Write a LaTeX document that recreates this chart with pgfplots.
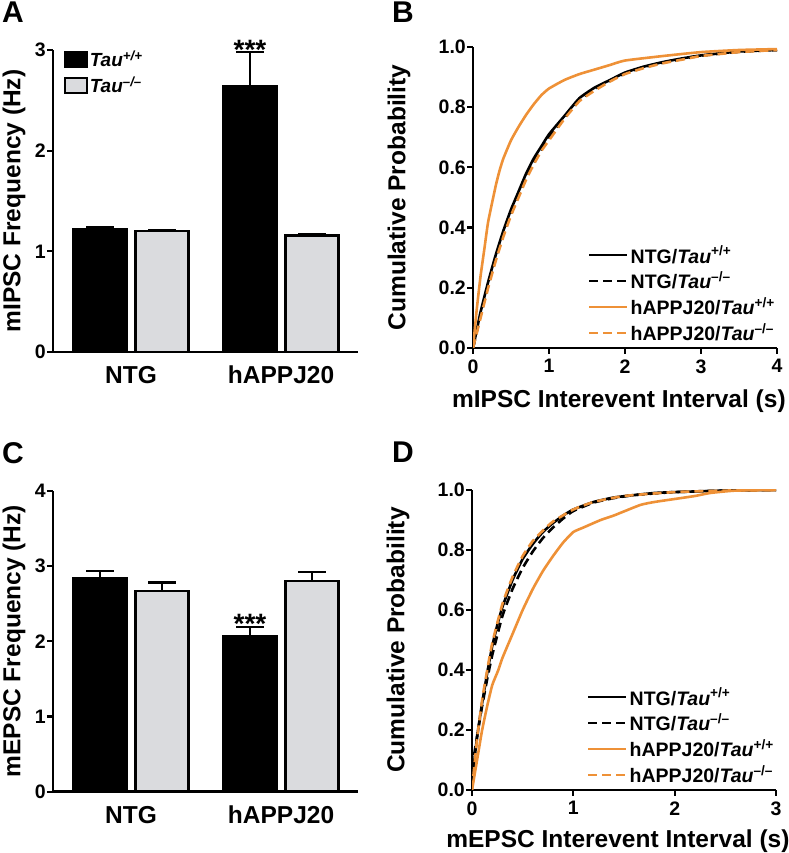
\documentclass[border=0pt]{standalone}
\usepackage{fontspec}
\setmainfont{Liberation Sans}
\usepackage{pgfplots}
\pgfplotsset{compat=1.18}
\definecolor{org}{RGB}{238,145,55}
\definecolor{lgray}{RGB}{218,219,222}
\newcommand{\tp}{\textsuperscript{+/+}}
\newcommand{\tm}{\textsuperscript{\textendash/\textendash}}
\pgfplotsset{
  common/.style={
    scale only axis,
    axis x line*=bottom, axis y line*=left,
    axis line style={-, line width=2.6pt},
    every tick/.style={line width=2.2pt, black},
    tick align=outside, major tick length=6pt,
    tick label style={font=\bfseries\fontsize{19.5}{19.5}\selectfont},
    /pgf/number format/assume math mode=true,
    x label style={font=\bfseries\fontsize{24.5}{26}\selectfont},
    y label style={font=\bfseries\fontsize{24.5}{26}\selectfont},
    yticklabel style={inner xsep=1pt},
  },
  barax/.style={
    common, width=305pt, clip=false,
    xmin=-0.52, xmax=1.513,
    ybar=9pt, bar width=53pt,
    xtick={0,1}, xticklabels={NTG,hAPPJ20},
    major x tick style={draw=none},
    xticklabel style={font=\bfseries\fontsize{24.5}{24.5}\selectfont, inner ysep=2pt, yshift=-6pt},
    y label style={at={(axis description cs:-0.128,0.5)}, anchor=center},
  },
  cdfax/.style={
    common, width=304pt, height=301pt,
    ymin=0, ymax=1, ytick={0,0.2,...,1.0},
    yticklabel style={/pgf/number format/.cd, fixed, fixed zerofill, precision=1},
    xticklabel style={yshift=-2pt},
    y label style={at={(axis description cs:-0.243,0.5)}, anchor=center},
    x label style={at={(axis description cs:0.48,-0.176)}, anchor=center},
    legend image code/.code={\draw[#1] (0pt,0pt) -- (38pt,0pt);},
    legend style={draw=none, fill=none, at={(axis description cs:1.01,0.005)}, anchor=south east,
      font=\bfseries\fontsize{19.5}{19.5}\selectfont, row sep=3pt,
      nodes={inner sep=2pt}},
    legend cell align=left,
  },
  bars/.style={line width=2.5pt,
    error bars/y dir=plus, error bars/y explicit,
    error bars/error bar style={line width=2.2pt, black},
    error bars/error mark options={rotate=90, line width=2.2pt, mark size=14pt, black}},
  cur/.style={line width=2.6pt, smooth, tension=0.3},
  dsh/.style={dash pattern=on 9pt off 5pt},
}
\begin{document}
\begin{tikzpicture}[x=1pt,y=1pt]
\useasboundingbox (0,0) rectangle (788,853);
% panel letters
\node[anchor=north west, inner sep=0, font=\bfseries\fontsize{30}{30}\selectfont] at (2,851) {A};
\node[anchor=north west, inner sep=0, font=\bfseries\fontsize{30}{30}\selectfont] at (392,851) {B};
\node[anchor=north west, inner sep=0, font=\bfseries\fontsize{30}{30}\selectfont] at (2,411) {C};
\node[anchor=north west, inner sep=0, font=\bfseries\fontsize{30}{30}\selectfont] at (392,411) {D};

% ---------- A ----------
\begin{axis}[barax, at={(53pt,501pt)}, anchor=south west, height=302pt,
  ymin=0, ymax=3, ytick={0,1,2,3},
  ylabel={mIPSC Frequency (Hz)},
  legend image code/.code={\draw[#1, line width=2pt] (0pt,-7.5pt) rectangle (22pt,7.5pt);},
  legend style={draw=none, fill=none, at={(axis description cs:0.025,1.012)}, anchor=north west,
    font=\bfseries\itshape\fontsize{19}{19}\selectfont, row sep=5pt, nodes={inner sep=2pt}},
  legend cell align=left]
\addplot[fill=black, draw=black, bars] coordinates {(0,1.22) +- (0,0.02) (1,2.64) +- (0,0.34)};
\addplot[fill=lgray, draw=black, bars] coordinates {(0,1.20) +- (0,0.01) (1,1.155) +- (0,0.015)};
\legend{Tau\tp, Tau\tm}
\node[anchor=base, xshift=-31pt, yshift=-7pt, font=\bfseries\fontsize{28}{28}\selectfont] at (axis cs:1,2.98) {***};
\end{axis}

% ---------- B ----------
\begin{axis}[cdfax, at={(473pt,505pt)}, anchor=south west,
  xmin=0, xmax=4, xtick={0,1,2,3,4},
  ylabel={Cumulative Probability}, xlabel={mIPSC Interevent Interval (s)}]
\addplot[cur, black] coordinates {(0,0) (0.05,0.06) (0.1,0.12) (0.2,0.22) (0.3,0.31) (0.4,0.39) (0.5,0.46) (0.6,0.52) (0.7,0.58) (0.8,0.63) (0.9,0.67) (1.0,0.71) (1.2,0.77) (1.4,0.83) (1.6,0.865) (1.8,0.89) (2.0,0.915) (2.25,0.935) (2.5,0.95) (2.75,0.962) (3.0,0.972) (3.5,0.985) (4.0,0.99)};
\addplot[cur, black, dsh] coordinates {(0,0) (0.05,0.055) (0.1,0.11) (0.2,0.21) (0.3,0.30) (0.4,0.38) (0.5,0.45) (0.6,0.51) (0.7,0.57) (0.8,0.62) (0.9,0.66) (1.0,0.70) (1.2,0.765) (1.4,0.825) (1.6,0.86) (1.8,0.888) (2.0,0.912) (2.25,0.933) (2.5,0.948) (2.75,0.96) (3.0,0.971) (3.5,0.984) (4.0,0.99)};
\addplot[cur, org] coordinates {(0,0) (0.05,0.13) (0.1,0.24) (0.15,0.33) (0.2,0.42) (0.3,0.54) (0.35,0.59) (0.4,0.63) (0.5,0.69) (0.6,0.735) (0.7,0.775) (0.8,0.81) (0.9,0.84) (1.0,0.862) (1.2,0.89) (1.4,0.91) (1.6,0.925) (1.8,0.94) (2.0,0.955) (2.5,0.97) (3.0,0.983) (3.5,0.99) (4.0,0.993)};
\addplot[cur, org, dsh] coordinates {(0,0) (0.05,0.05) (0.1,0.10) (0.2,0.20) (0.3,0.29) (0.4,0.37) (0.5,0.44) (0.6,0.50) (0.7,0.56) (0.8,0.61) (0.9,0.655) (1.0,0.69) (1.2,0.76) (1.4,0.82) (1.6,0.855) (1.8,0.885) (2.0,0.91) (2.25,0.93) (2.5,0.946) (2.75,0.958) (3.0,0.97) (3.5,0.983) (4.0,0.99)};
\legend{NTG/\textit{Tau}\tp, NTG/\textit{Tau}\tm, hAPPJ20/\textit{Tau}\tp, hAPPJ20/\textit{Tau}\tm}
\end{axis}

% ---------- C ----------
\begin{axis}[barax, at={(53pt,61.3pt)}, anchor=south west, height=301pt,
  ymin=0, ymax=4, ytick={0,1,2,3,4},
  ylabel={mEPSC Frequency (Hz)}]
\addplot[fill=black, draw=black, bars] coordinates {(0,2.836) +- (0,0.10) (1,2.065) +- (0,0.125)};
\addplot[fill=lgray, draw=black, bars] coordinates {(0,2.67) +- (0,0.11) (1,2.80) +- (0,0.12)};
\node[anchor=base, xshift=-31pt, yshift=-7pt, font=\bfseries\fontsize{28}{28}\selectfont] at (axis cs:1,2.19) {***};
\end{axis}

% ---------- D ----------
\begin{axis}[cdfax, at={(472pt,63pt)}, anchor=south west, height=300pt,
  xmin=0, xmax=3, xtick={0,1,2,3},
  ylabel={Cumulative Probability}, xlabel={mEPSC Interevent Interval (s)},
  x label style={at={(axis description cs:0.48,-0.172)}}]
\addplot[cur, black] coordinates {(0,0.02) (0.03,0.12) (0.06,0.2) (0.1,0.29) (0.15,0.39) (0.2,0.48) (0.25,0.55) (0.3,0.61) (0.4,0.70) (0.5,0.77) (0.6,0.82) (0.7,0.86) (0.8,0.89) (0.9,0.915) (1.0,0.935) (1.2,0.96) (1.4,0.975) (1.6,0.983) (1.8,0.99) (2.0,0.993) (2.5,0.998) (3.0,1.0)};
\addplot[cur, black, dsh] coordinates {(0,0.07) (0.05,0.18) (0.1,0.28) (0.15,0.37) (0.2,0.45) (0.3,0.58) (0.4,0.67) (0.5,0.74) (0.6,0.795) (0.7,0.84) (0.8,0.875) (0.9,0.905) (1.0,0.93) (1.2,0.958) (1.4,0.973) (1.6,0.983) (2.0,0.993) (2.5,0.998) (3.0,1.0)};
\addplot[cur, org] coordinates {(0,0) (0.05,0.1) (0.1,0.2) (0.15,0.28) (0.2,0.35) (0.26,0.4) (0.3,0.44) (0.4,0.52) (0.5,0.6) (0.6,0.67) (0.7,0.73) (0.8,0.78) (0.9,0.825) (1.0,0.86) (1.1,0.875) (1.27,0.9) (1.4,0.915) (1.66,0.95) (1.8,0.96) (2.0,0.97) (2.2,0.98) (2.35,0.99) (2.6,0.998) (3.0,1.0)};
\addplot[cur, org, dsh] coordinates {(0,0) (0.05,0.17) (0.1,0.30) (0.15,0.40) (0.2,0.49) (0.3,0.62) (0.4,0.71) (0.5,0.78) (0.6,0.83) (0.7,0.865) (0.8,0.895) (1.0,0.935) (1.2,0.96) (1.5,0.98) (2.0,0.993) (2.5,0.998) (3.0,1.0)};
\legend{NTG/\textit{Tau}\tp, NTG/\textit{Tau}\tm, hAPPJ20/\textit{Tau}\tp, hAPPJ20/\textit{Tau}\tm}
\end{axis}
\end{tikzpicture}
\end{document}
